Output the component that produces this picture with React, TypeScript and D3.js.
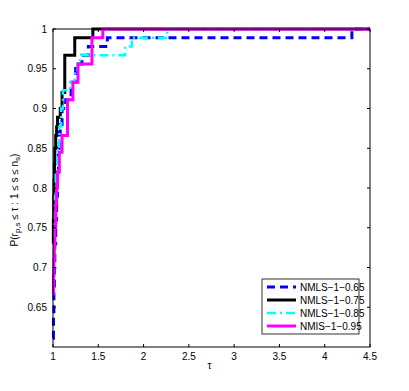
import React from 'react';
import * as d3 from 'd3';

// performance profile, tau vs fraction of problems (step functions)
const tau065 = [1.0, 1.005, 1.01, 1.015, 1.02, 1.03, 1.04, 1.05, 1.06, 1.07, 1.08, 1.1, 1.14, 1.2, 1.25, 1.32, 1.39, 1.6, 4.3, 4.5];
const val065 = [0.611, 0.64, 0.67, 0.70, 0.73, 0.76, 0.79, 0.82, 0.85, 0.87, 0.88, 0.9, 0.911, 0.933, 0.956, 0.967, 0.978, 0.989, 1.0, 1.0];

const tau075 = [1.0, 1.004, 1.008, 1.012, 1.016, 1.02, 1.03, 1.04, 1.05, 1.08, 1.1, 1.13, 1.24, 1.44, 4.5];
const val075 = [0.73, 0.76, 0.79, 0.81, 0.83, 0.85, 0.866, 0.877, 0.889, 0.9, 0.92, 0.967, 0.989, 1.0, 1.0];

const tau085 = [1.0, 1.005, 1.01, 1.015, 1.02, 1.03, 1.05, 1.07, 1.09, 1.11, 1.19, 1.24, 1.27, 1.3, 1.795, 1.87, 2.26, 4.5];
const val085 = [0.667, 0.7, 0.73, 0.76, 0.79, 0.82, 0.85, 0.877, 0.9, 0.923, 0.933, 0.944, 0.956, 0.967, 0.978, 0.989, 1.0, 1.0];

const tau095 = [1.0, 1.005, 1.01, 1.015, 1.02, 1.03, 1.04, 1.05, 1.07, 1.1, 1.16, 1.22, 1.276, 1.43, 1.55, 4.5];
const val095 = [0.667, 0.69, 0.71, 0.73, 0.75, 0.78, 0.8, 0.82, 0.845, 0.866, 0.911, 0.933, 0.956, 0.989, 1.0, 1.0];

const seriesNames = ['NMLS\u22121\u22120.65', 'NMLS\u22121\u22120.75', 'NMLS\u22121\u22120.85', 'NMIS\u22121\u22120.95'];
const xTickVals = [1, 1.5, 2, 2.5, 3, 3.5, 4, 4.5];
const yTickVals = [0.65, 0.7, 0.75, 0.8, 0.85, 0.9, 0.95, 1];

export default function App() {
  const width = 409, height = 391;
  const margin = { top: 29, right: 39, bottom: 44, left: 53 };
  const innerWidth = width - margin.left - margin.right;
  const innerHeight = height - margin.top - margin.bottom;

  const xScale = d3.scaleLinear().domain([1, 4.5]).range([0, innerWidth]);
  const yScale = d3.scaleLinear().domain([0.6, 1]).range([innerHeight, 0]);

  const line = d3.line<[number, number]>()
    .x(d => xScale(d[0]))
    .y(d => yScale(d[1]))
    .curve(d3.curveStepAfter);

  const series = [
    { name: seriesNames[0], t: tau065, v: val065, color: '#0000ff', dash: '8,5', w: 3 },
    { name: seriesNames[1], t: tau075, v: val075, color: '#000000', dash: undefined, w: 3 },
    { name: seriesNames[2], t: tau085, v: val085, color: '#00ffff', dash: '9,4,2,4', w: 2.5 },
    { name: seriesNames[3], t: tau095, v: val095, color: '#ff00ff', dash: undefined, w: 3 },
  ];

  const font = 'Liberation Sans, Arial, sans-serif';
  const tl = 3;

  return (
    <svg width={width} height={height} style={{ position: 'absolute', left: 0, top: 0, background: '#fff' }}>
      <rect x={0} y={0} width={width} height={height} fill='#fff' />
      <g transform={`translate(${margin.left},${margin.top})`}>
        {series.map(s => (
          <path key={s.name}
            d={line(s.t.map((t, i) => [t, s.v[i]] as [number, number])) || ''}
            fill='none' stroke={s.color} strokeWidth={s.w}
            strokeDasharray={s.dash} strokeLinejoin='miter' />
        ))}
        <rect x={0} y={0} width={innerWidth} height={innerHeight} fill='none' stroke='#000' strokeWidth={1} />
        {xTickVals.map(t => (
          <g key={'x' + t} transform={`translate(${xScale(t)},0)`}>
            <line y1={innerHeight} y2={innerHeight - tl} stroke='#000' />
            <line y1={0} y2={tl} stroke='#000' />
            <text y={innerHeight + 13} textAnchor='middle' fontFamily={font} fontSize={10} fill='#000'>{t}</text>
          </g>
        ))}
        {yTickVals.map(t => (
          <g key={'y' + t} transform={`translate(0,${yScale(t)})`}>
            <line x1={0} x2={tl} stroke='#000' />
            <line x1={innerWidth} x2={innerWidth - tl} stroke='#000' />
            <text x={-6} dy='0.35em' textAnchor='end' fontFamily={font} fontSize={10} fill='#000'>{t}</text>
          </g>
        ))}
        <text x={xScale(2.75) - 2} y={innerHeight + 22} textAnchor='middle' fontFamily={font} fontSize={10}>τ</text>
        <text transform={`translate(${-35},${innerHeight / 2 + 12}) rotate(-90)`} textAnchor='middle' fontFamily={font} fontSize={10}>
          P(r<tspan baselineShift='-30%' fontSize={8}>p,s</tspan> ≤ τ : 1 ≤ s ≤ n<tspan baselineShift='-30%' fontSize={8}>s</tspan>)
        </text>
        <g transform={`translate(${209},${250})`}>
          <rect x={0} y={0} width={97} height={55} fill='#fff' stroke='#333' strokeWidth={1} />
          {series.map((s, i) => (
            <g key={'l' + i} transform={`translate(0,${8 + i * 13})`}>
              <line x1={5} x2={34} y1={0} y2={0} stroke={s.color} strokeWidth={s.w} strokeDasharray={s.dash} />
              <text x={38} dy='0.35em' fontFamily={font} fontSize={10}>{s.name}</text>
            </g>
          ))}
        </g>
      </g>
    </svg>
  );
}
